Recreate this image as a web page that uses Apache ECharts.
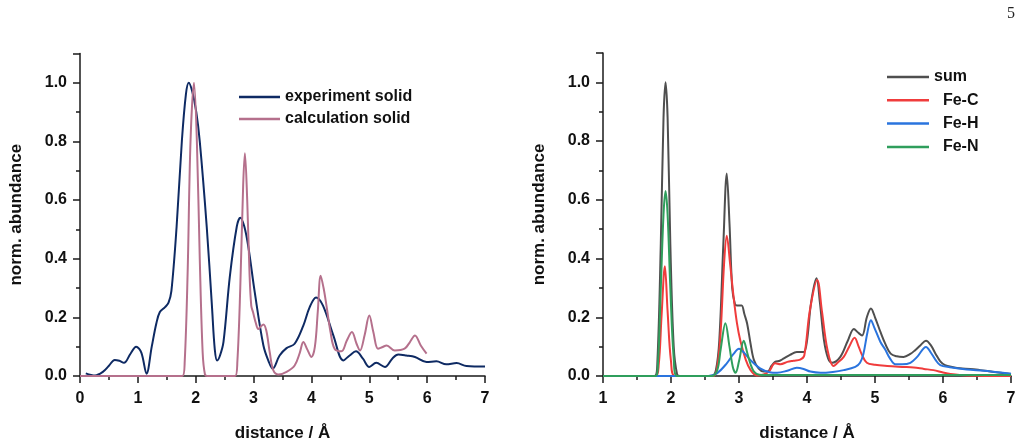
<!DOCTYPE html>
<html>
<head>
<meta charset="utf-8">
<script src="https://cdn.jsdelivr.net/npm/echarts@6/dist/echarts.min.js"></script>
<style>
  html, body { margin: 0; padding: 0; background: #fff; }
  #chart { width: 1024px; height: 447px; }
</style>
</head>
<body>
<div id="chart"></div>
<script>
// left panel: experiment vs calculation
const expX = [0.10, 0.26, 0.40, 0.50, 0.60, 0.68, 0.76, 0.87, 0.97, 1.06, 1.15, 1.24, 1.32, 1.38, 1.47, 1.53, 1.58, 1.67, 1.76, 1.83, 1.88, 1.94, 2.01, 2.07, 2.19, 2.28, 2.33, 2.37, 2.42, 2.48, 2.59, 2.71, 2.77, 2.84, 2.91, 3.02, 3.17, 3.26, 3.33, 3.45, 3.57, 3.71, 3.86, 3.97, 4.08, 4.20, 4.38, 4.55, 4.66, 4.77, 4.89, 5.00, 5.12, 5.27, 5.40, 5.50, 5.64, 5.79, 5.99, 6.16, 6.33, 6.51, 6.68, 7.00]
const expY = [0.009, 0.002, 0.015, 0.035, 0.055, 0.052, 0.045, 0.075, 0.100, 0.080, 0.008, 0.10, 0.18, 0.218, 0.235, 0.25, 0.29, 0.51, 0.80, 0.96, 1.0, 0.97, 0.90, 0.80, 0.51, 0.24, 0.09, 0.053, 0.07, 0.116, 0.34, 0.51, 0.54, 0.51, 0.44, 0.286, 0.104, 0.05, 0.025, 0.07, 0.095, 0.11, 0.172, 0.235, 0.268, 0.24, 0.138, 0.053, 0.07, 0.084, 0.059, 0.031, 0.045, 0.031, 0.06, 0.073, 0.07, 0.065, 0.048, 0.05, 0.04, 0.044, 0.034, 0.032]

const calcX = [0.00, 1.77, 1.81, 1.86, 1.91, 1.97, 2.02, 2.07, 2.12, 2.16, 2.20, 2.68, 2.72, 2.77, 2.82, 2.85, 2.89, 2.93, 2.96, 2.99, 3.04, 3.08, 3.13, 3.17, 3.22, 3.28, 3.34, 3.43, 3.57, 3.71, 3.80, 3.86, 3.93, 4.00, 4.06, 4.11, 4.16, 4.21, 4.26, 4.33, 4.40, 4.52, 4.61, 4.70, 4.78, 4.84, 4.92, 5.00, 5.07, 5.15, 5.22, 5.30, 5.44, 5.61, 5.70, 5.79, 5.89, 5.99]
const calcY = [0, 0, 0.05, 0.35, 0.80, 1.0, 0.80, 0.40, 0.08, 0.005, 0, 0, 0.05, 0.30, 0.65, 0.76, 0.60, 0.35, 0.24, 0.218, 0.18, 0.16, 0.17, 0.176, 0.155, 0.08, 0.02, 0.005, 0.014, 0.036, 0.08, 0.116, 0.09, 0.065, 0.10, 0.22, 0.342, 0.30, 0.24, 0.15, 0.093, 0.084, 0.12, 0.15, 0.11, 0.087, 0.14, 0.206, 0.15, 0.093, 0.098, 0.104, 0.087, 0.093, 0.115, 0.138, 0.104, 0.076]

// right panel: partial contributions
const sumX = [1.00, 1.76, 1.80, 1.85, 1.89, 1.92, 1.95, 1.99, 2.04, 2.09, 2.13, 2.60, 2.66, 2.71, 2.77, 2.82, 2.86, 2.90, 2.94, 2.97, 3.01, 3.04, 3.08, 3.12, 3.17, 3.22, 3.29, 3.36, 3.42, 3.48, 3.53, 3.60, 3.66, 3.75, 3.85, 3.95, 4.00, 4.06, 4.14, 4.19, 4.25, 4.31, 4.37, 4.49, 4.60, 4.69, 4.75, 4.81, 4.88, 4.94, 5.00, 5.08, 5.15, 5.23, 5.32, 5.42, 5.52, 5.59, 5.67, 5.75, 5.82, 5.89, 5.96, 6.03, 6.15, 6.25, 6.40, 6.55, 6.75, 7.00]
const sumY = [0, 0, 0.05, 0.45, 0.88, 1.0, 0.88, 0.45, 0.10, 0.005, 0, 0, 0.02, 0.12, 0.45, 0.69, 0.52, 0.30, 0.245, 0.24, 0.24, 0.24, 0.21, 0.178, 0.11, 0.054, 0.025, 0.015, 0.015, 0.035, 0.048, 0.052, 0.06, 0.072, 0.082, 0.082, 0.12, 0.25, 0.333, 0.25, 0.121, 0.06, 0.045, 0.065, 0.12, 0.16, 0.148, 0.138, 0.20, 0.23, 0.20, 0.15, 0.11, 0.076, 0.067, 0.065, 0.075, 0.088, 0.105, 0.12, 0.105, 0.076, 0.05, 0.037, 0.03, 0.026, 0.024, 0.02, 0.014, 0.007]

const fecX = [1.00, 1.77, 1.82, 1.86, 1.91, 1.95, 2.00, 2.06, 2.62, 2.68, 2.73, 2.78, 2.82, 2.87, 2.92, 2.97, 3.02, 3.10, 3.17, 3.26, 3.36, 3.44, 3.53, 3.61, 3.71, 3.80, 3.90, 3.96, 4.04, 4.15, 4.22, 4.30, 4.39, 4.45, 4.54, 4.62, 4.70, 4.76, 4.81, 4.88, 5.00, 5.18, 5.40, 5.57, 5.72, 5.86, 6.00, 6.11, 6.35, 7.00]
const fecY = [0, 0, 0.04, 0.20, 0.374, 0.22, 0.05, 0, 0, 0.03, 0.15, 0.38, 0.478, 0.38, 0.27, 0.18, 0.12, 0.055, 0.02, 0.002, 0.005, 0.015, 0.043, 0.04, 0.048, 0.052, 0.056, 0.07, 0.22, 0.327, 0.22, 0.09, 0.034, 0.045, 0.065, 0.10, 0.13, 0.10, 0.071, 0.045, 0.038, 0.034, 0.031, 0.029, 0.024, 0.02, 0.012, 0.007, 0.002, 0]

const fehX = [1.00, 2.55, 2.68, 2.82, 2.92, 3.00, 3.08, 3.17, 3.31, 3.45, 3.56, 3.71, 3.85, 3.95, 4.05, 4.20, 4.38, 4.54, 4.71, 4.78, 4.83, 4.89, 4.94, 4.99, 5.08, 5.15, 5.22, 5.30, 5.40, 5.52, 5.62, 5.75, 5.82, 5.89, 5.96, 6.10, 6.35, 6.60, 6.80, 7.00]
const fehY = [0, 0, 0.01, 0.043, 0.075, 0.093, 0.078, 0.054, 0.026, 0.013, 0.011, 0.018, 0.028, 0.024, 0.015, 0.011, 0.014, 0.02, 0.031, 0.045, 0.076, 0.15, 0.19, 0.165, 0.116, 0.09, 0.06, 0.04, 0.04, 0.045, 0.065, 0.099, 0.08, 0.055, 0.037, 0.03, 0.022, 0.018, 0.013, 0.008]

const fenX = [1.00, 1.77, 1.81, 1.85, 1.89, 1.92, 1.95, 1.99, 2.04, 2.09, 2.60, 2.68, 2.73, 2.80, 2.86, 2.91, 2.95, 3.00, 3.07, 3.12, 3.17, 3.22, 3.30, 3.50, 7.00]
const fenY = [0, 0, 0.05, 0.30, 0.55, 0.63, 0.55, 0.30, 0.06, 0, 0, 0.02, 0.09, 0.18, 0.10, 0.03, 0.011, 0.05, 0.12, 0.08, 0.04, 0.015, 0.004, 0.003, 0.003]

const yTicks = [0, 0.2, 0.4, 0.6, 0.8, 1.0]

const pairs = (xs, ys) => xs.map((x, i) => [x, ys[i]])

const FONT = '"Liberation Sans", Arial, sans-serif'
const AXIS = '#1a1a1a'

const xAxisBase = (grid, min) => ({
  type: 'value',
  gridIndex: grid,
  min: min,
  max: 7,
  interval: 1,
  name: 'distance / Å',
  nameLocation: 'middle',
  nameGap: 49,
  nameTextStyle: { fontFamily: FONT, fontWeight: 'bold', fontSize: 17, color: '#111' },
  axisLine: { lineStyle: { color: AXIS, width: 1.5 } },
  axisTick: { inside: false, length: 7, lineStyle: { color: AXIS, width: 1.5 } },
  minorTick: { show: true, splitNumber: 2, length: 4, lineStyle: { color: AXIS, width: 1.5 } },
  axisLabel: { fontFamily: FONT, fontWeight: 'bold', fontSize: 16, color: '#111', margin: 15 },
  splitLine: { show: false },
})

const yAxisBase = (grid) => ({
  type: 'value',
  gridIndex: grid,
  min: 0,
  max: 1.1,
  interval: 0.2,
  name: 'norm. abundance',
  nameLocation: 'middle',
  nameGap: 55,
  nameTextStyle: { fontFamily: FONT, fontWeight: 'bold', fontSize: 17, color: '#111' },
  axisLine: { show: true, lineStyle: { color: AXIS, width: 1.5 } },
  axisTick: { show: true, inside: false, length: 7, lineStyle: { color: AXIS, width: 1.5 } },
  minorTick: { show: true, splitNumber: 2, length: 4, lineStyle: { color: AXIS, width: 1.5 } },
  axisLabel: {
    fontFamily: FONT, fontWeight: 'bold', fontSize: 16, color: '#111', margin: 13,
    showMaxLabel: false,
    formatter: (v) => (yTicks.some((t) => Math.abs(t - v) < 1e-6) ? v.toFixed(1) : ''),
  },
  splitLine: { show: false },
})

const lineSeries = (name, xi, yi, data, color) => ({
  name: name,
  type: 'line',
  xAxisIndex: xi,
  yAxisIndex: yi,
  data: data,
  smooth: 0.35,
  symbol: 'none',
  lineStyle: { color: color, width: 2 },
  itemStyle: { color: color },
  emphasis: { disabled: true },
  animation: false,
})

const legendText = { fontFamily: FONT, fontWeight: 'bold', fontSize: 16, color: '#111' }

const chart = echarts.init(document.getElementById('chart'), null, { renderer: 'canvas' })

chart.setOption({
  backgroundColor: '#fff',
  animation: false,
  grid: [
    { left: 80, right: 539, top: 53.5, bottom: 69.5 },
    { left: 603, right: 13, top: 53, bottom: 67.7 },
  ],
  xAxis: [xAxisBase(0, 0), xAxisBase(1, 1)],
  yAxis: [yAxisBase(0), yAxisBase(1)],
  legend: [
    {
      data: ['experiment solid', 'calculation solid'],
      orient: 'vertical',
      left: 234,
      top: 84,
      icon: 'rect',
      itemWidth: 41,
      itemHeight: 2.5,
      itemGap: 6,
      textStyle: legendText,
      selectedMode: false,
    },
    {
      data: ['sum', 'Fe-C', 'Fe-H', 'Fe-N'],
      orient: 'vertical',
      left: 882,
      top: 64,
      icon: 'rect',
      itemWidth: 42,
      itemHeight: 2.5,
      itemGap: 7.3,
      formatter: (n) => (n === 'sum' ? n : '  ' + n),
      textStyle: legendText,
      selectedMode: false,
    },
  ],
  graphic: [
    {
      type: 'text',
      left: 1007,
      top: 6,
      style: { text: '5', font: '16px "Liberation Serif", "DejaVu Serif", serif', fill: '#222' },
    },
  ],
  series: [
    lineSeries('experiment solid', 0, 0, pairs(expX, expY), '#0e2a63'),
    lineSeries('calculation solid', 0, 0, pairs(calcX, calcY), '#b5708c'),
    lineSeries('sum', 1, 1, pairs(sumX, sumY), '#4f4f4f'),
    lineSeries('Fe-C', 1, 1, pairs(fecX, fecY), '#f03c3c'),
    lineSeries('Fe-H', 1, 1, pairs(fehX, fehY), '#2a74de'),
    lineSeries('Fe-N', 1, 1, pairs(fenX, fenY), '#2f9e5c'),
  ],
})

window.addEventListener('resize', () => chart.resize())
</script>
</body>
</html>
